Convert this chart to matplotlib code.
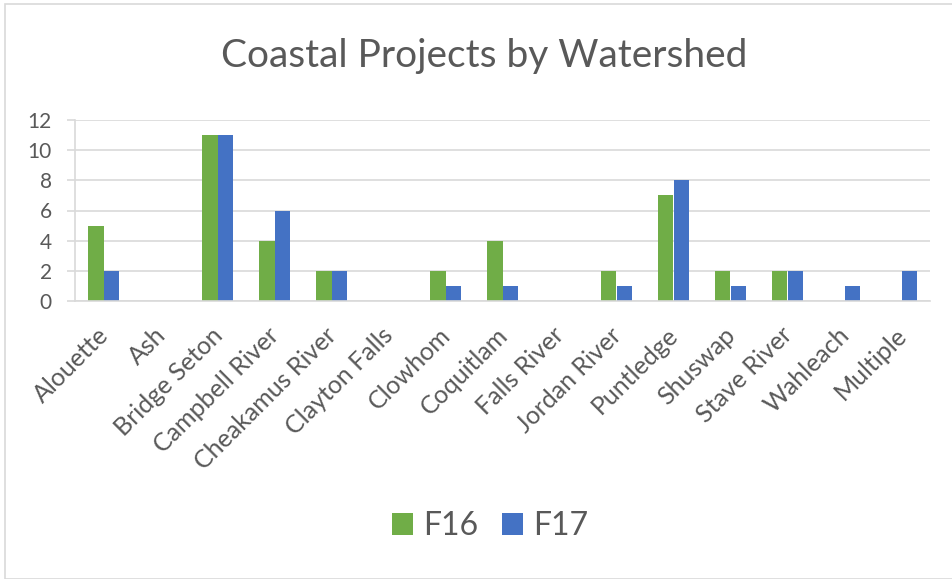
import matplotlib.pyplot as plt
import numpy as np
from matplotlib.patches import Rectangle
from matplotlib.transforms import ScaledTranslation

# Dados do gráfico
watersheds = ['Alouette', 'Ash', 'Bridge Seton', 'Campbell River', 'Cheakamus River',
              'Clayton Falls', 'Clowhom', 'Coquitlam', 'Falls River', 'Jordan River',
              'Puntledge', 'Shuswap', 'Stave River', 'Wahleach', 'Multiple']
f16 = [5, 0, 11, 4, 2, 0, 2, 4, 0, 2, 7, 2, 2, 0, 0]
f17 = [2, 0, 11, 6, 2, 0, 1, 1, 0, 1, 8, 1, 2, 1, 2]
series_names = ['F16', 'F17']
yticks = [0, 2, 4, 6, 8, 10, 12]

GREEN = '#70AD47'
BLUE = '#4472C4'
TXT = '#595959'
GRID = '#D9D9D9'

plt.rcParams['font.family'] = ['Lato', 'DejaVu Sans']

W, H = 952, 579
fig = plt.figure(figsize=(W / 100, H / 100), dpi=100)

# área do gráfico em pixels
left, right, top, bottom = 75, 930, 120, 301
ax = fig.add_axes([left / W, 1 - bottom / H, (right - left) / W, (bottom - top) / H])

x = np.arange(len(watersheds))
bw = 0.28
b1 = ax.bar(x - bw / 2, f16, bw, color=GREEN, label=series_names[0])
b2 = ax.bar(x + bw / 2, f17, bw, color=BLUE, label=series_names[1])

ax.set_xlim(-0.5, len(watersheds) - 0.5)
ax.set_ylim(0, 12)
ax.set_yticks(yticks)
ax.set_yticklabels([str(v) for v in yticks], fontsize=15, color=TXT)
ax.set_xticks(x)
ax.set_xticklabels(watersheds, rotation=45, ha='right', rotation_mode='anchor',
                   fontsize=18, color=TXT)
ax.tick_params(axis='x', length=0, pad=16)
ax.tick_params(axis='y', length=5.8, width=1.2, color=GRID, pad=11)

# desloca os rótulos rotacionados um pouco para a esquerda
shift = ScaledTranslation(-7 / 100, 0, fig.dpi_scale_trans)
for lab in ax.get_xticklabels():
    lab.set_transform(lab.get_transform() + shift)

ax.grid(axis='y', color=GRID, lw=1.2)
ax.set_axisbelow(True)
for s in ['top', 'right']:
    ax.spines[s].set_visible(False)
for s in ['bottom', 'left']:
    ax.spines[s].set_color(GRID)
    ax.spines[s].set_linewidth(1.2)

fig.text(484 / W, 1 - 56 / H, 'Coastal Projects by Watershed', ha='center', va='center',
         fontsize=28, color=TXT)

leg = fig.legend(handles=[b1, b2], loc='center', bbox_to_anchor=(490 / W, 1 - 526 / H),
                 ncol=2, frameon=False, fontsize=23, handlelength=0.66, handleheight=0.66,
                 handletextpad=0.3, columnspacing=0.75)
for t in leg.get_texts():
    t.set_color(TXT)

# moldura do gráfico
fig.patches.append(Rectangle((5 / W, 0), 1.2, 1 - 4 / H, transform=fig.transFigure,
                             fill=False, edgecolor=GRID, lw=1.2))

fig.savefig('out.png', dpi=100)
